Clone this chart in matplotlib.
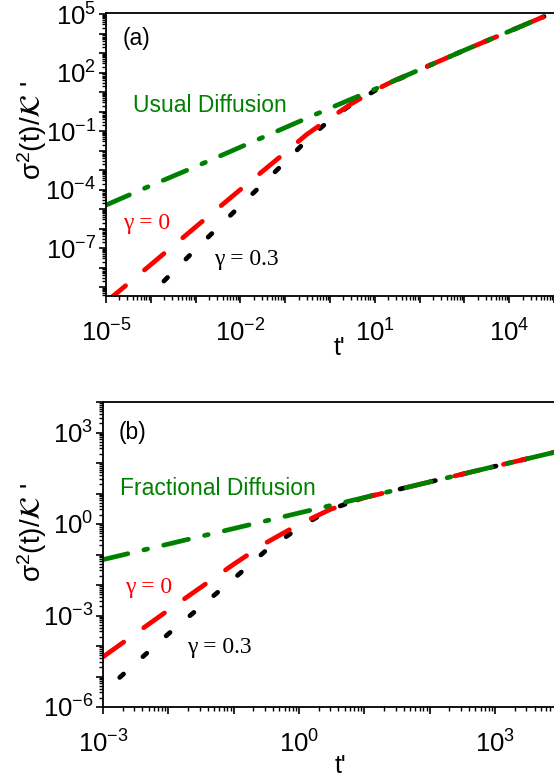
import numpy as np
import matplotlib
matplotlib.use("Agg")
import matplotlib.pyplot as plt
from matplotlib.ticker import LogLocator, FuncFormatter, NullFormatter

plt.rcParams['font.family'] = ['Liberation Sans', 'DejaVu Sans']
plt.rcParams['mathtext.fontset'] = 'custom'
plt.rcParams['mathtext.rm'] = 'Liberation Sans'
plt.rcParams['mathtext.it'] = 'Liberation Sans:italic'
plt.rcParams['mathtext.default'] = 'regular'

# ---- panel (a): usual diffusion ----
t_a_green = [1e-5, 1e-4, 1e-3, 1e-2, 1e-1, 1, 10, 1e2, 1e3, 1e4, 6e4]
green_a = [1.6e-5, 1.6e-4, 1.5e-3, 1.5e-2, 0.15, 1.5, 14, 140, 1.4e3, 1.3e4, 7.5e4]

t_a_red = [1e-5, 1e-4, 1e-3, 1e-2, 1e-1, 0.3, 1, 3, 10, 30, 1e2, 1e3, 1e4, 6e4]
red_a = [1.7e-10, 1.4e-8, 1.2e-6, 1.0e-4, 7.8e-3, 0.066, 0.46, 2.5, 12.5, 43, 140, 1.4e3, 1.3e4, 7.5e4]

t_a_black = [6.3e-5, 1e-4, 1e-3, 1e-2, 0.1, 0.3, 1, 3, 10, 30, 1e2, 1e3, 1e4, 6e4]
black_a = [1.5e-10, 4.3e-10, 8.5e-8, 1.5e-5, 2.6e-3, 3.3e-2, 0.38, 2.3, 11.7, 40, 140, 1.4e3, 1.3e4, 7.5e4]

# ---- panel (b): fractional diffusion ----
t_b_green = [1e-3, 1e-2, 0.1, 1, 10, 100, 1e3, 8e3]
green_b = [0.068, 0.22, 0.71, 2.3, 7.4, 24, 78, 224]

t_b_red = [1e-3, 1e-2, 0.1, 0.3, 1, 3, 10, 100, 1e3, 8e3]
red_b = [4.4e-5, 1.5e-3, 0.048, 0.23, 0.98, 3.0, 7.3, 24, 78, 224]

t_b_black = [1.8e-3, 1e-2, 0.1, 0.3, 1, 3, 10, 100, 1e3, 8e3]
black_b = [9.3e-6, 2.5e-4, 0.016, 0.126, 0.76, 3.0, 7.4, 24, 78, 224]

W, H = 554, 779
fig = plt.figure(figsize=(W / 100, H / 100), dpi=100)

ax1 = fig.add_axes([106 / W, 1 - 296 / H, (554 - 106) / W, (296 - 12.7) / H])
ax2 = fig.add_axes([103 / W, 1 - 707 / H, (554 - 103) / W, (707 - 402) / H])

lw = 3.4
green_ls = (0, (5.4, 3.5, 0.8, 3.5))
red_ls = (0, (5.4, 5.2))
black_ls = (0, (1.1, 5.5))


def draw(ax, tg, g, tr, r, tk, k):
    ax.plot(tk, k, color='black', lw=lw, ls=black_ls, dash_capstyle='round')
    ax.plot(tr, r, color='#ff0000', lw=lw, ls=red_ls, dash_capstyle='round')
    ax.plot(tg, g, color='#008000', lw=lw, ls=green_ls, dash_capstyle='round')
    ax.set_xscale('log')
    ax.set_yscale('log')


def style(ax, rx, ry):
    def fx(v, pos):
        e = int(round(np.log10(v)))
        return r'$10^{%d}$' % e if e % 3 == rx else ''

    def fy(v, pos):
        e = int(round(np.log10(v)))
        return r'$10^{%d}$' % e if e % 3 == ry else ''

    for axis, f in ((ax.xaxis, fx), (ax.yaxis, fy)):
        axis.set_major_locator(LogLocator(base=10, numticks=40))
        axis.set_minor_locator(LogLocator(base=10, subs=np.arange(2, 10), numticks=40))
        axis.set_major_formatter(FuncFormatter(f))
        axis.set_minor_formatter(NullFormatter())
    ax.spines['right'].set_visible(False)
    for s in ax.spines.values():
        s.set_linewidth(1.3)
    ax.tick_params(which='major', direction='out', length=5, width=1.2, labelsize=18.5)
    ax.tick_params(which='minor', direction='out', length=2.6, width=1.0)
    ax.tick_params(axis='x', which='major', pad=12)
    ax.tick_params(axis='y', which='major', pad=2)


draw(ax1, t_a_green, green_a, t_a_red, red_a, t_a_black, black_a)
ax1.set_xlim(1e-5, 1e5)
ax1.set_ylim(10 ** -9.46, 10 ** 5.07)
style(ax1, 1, 2)

draw(ax2, t_b_green, green_b, t_b_red, red_b, t_b_black, black_b)
ax2.set_xlim(1e-3, 10 ** 3.9)
ax2.set_ylim(1e-6, 1e4)
style(ax2, 0, 0)


def ftext(x, y, s, **kw):
    fig.text(x / W, 1 - y / H, s, ha='center', va='center', **kw)


serif = ['Liberation Serif', 'DejaVu Serif']
ylab = r"$\sigma^2$(t)/$\mathcal{K}$ '"

# panel (a) texts
ftext(137, 39, '(a)', fontsize=16.5)
ftext(210, 105, 'Usual Diffusion', fontsize=16.5, color='#008000')
ftext(147, 223, 'γ = 0', fontsize=17, color='#ff0000', family=serif)
ftext(246, 260, 'γ = 0.3', fontsize=17, color='black', family=serif)
ftext(32, 131, ylab, fontsize=20, rotation=90, math_fontfamily='stix')
ftext(339, 348, "t'", fontsize=18)

# panel (b) texts
ftext(133, 432, '(b)', fontsize=16.5)
ftext(218, 489, 'Fractional Diffusion', fontsize=16.5, color='#008000')
ftext(149, 587, 'γ = 0', fontsize=17, color='#ff0000', family=serif)
ftext(219, 647, 'γ = 0.3', fontsize=17, color='black', family=serif)
ftext(32, 533, ylab, fontsize=20, rotation=90, math_fontfamily='stix')
ftext(340, 766, "t'", fontsize=18)

fig.savefig('out.png', dpi=100)
